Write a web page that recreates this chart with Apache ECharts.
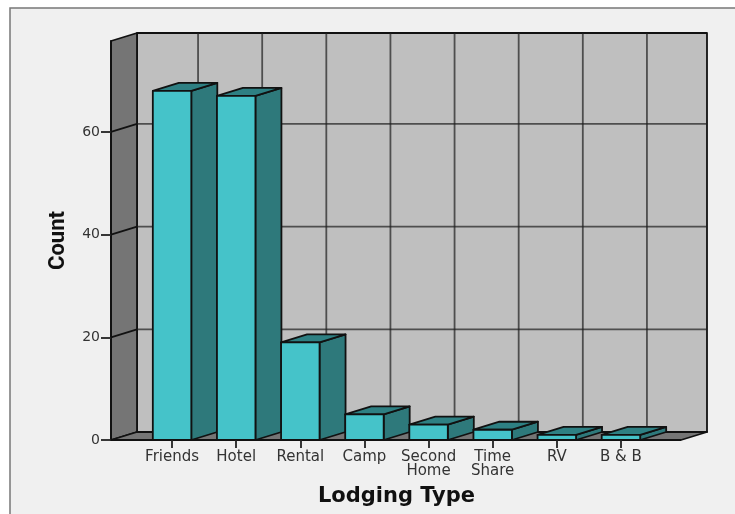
<!DOCTYPE html>
<html>
<head>
<meta charset="utf-8">
<style>html,body{margin:0;padding:0;background:#fff}#c{width:735px;height:514px}</style>
<script src="https://cdn.jsdelivr.net/npm/echarts@6/dist/echarts.min.js"></script>
</head>
<body>
<div id="c"></div>
<script>
// Lodging type counts
const categories = ['Friends', 'Hotel', 'Rental', 'Camp', 'Second\nHome', 'Time\nShare', 'RV', 'B & B'];
const counts = [68, 67, 19, 5, 3, 2, 1, 1];
const yTicks = [0, 20, 40, 60];

// 3D box look
const DX = 26, DY = 8, LEFT_PAD = 29, RIGHT_PAD = 28;
const EDGE = '#111', GRID = 'rgba(30,30,30,0.7)';

function poly(points, fill, lineWidth, stroke) {
  return {type: 'polygon', shape: {points}, style: {fill, stroke: stroke || EDGE, lineWidth: lineWidth || 1.8, lineJoin: 'round'}};
}
function line(x1, y1, x2, y2, stroke, w) {
  return {type: 'line', shape: {x1, y1, x2, y2}, style: {stroke, lineWidth: w || 1.8, fill: null}};
}

// Back wall, side wall, floor and gridlines of the chart box
function renderRoom(params, api) {
  const c = params.coordSys;
  const l = c.x - LEFT_PAD, r = c.x + c.width + RIGHT_PAD, t = c.y, b = c.y + c.height;
  const kids = [
    poly([[l + DX, t - DY], [r + DX, t - DY], [r + DX, b - DY], [l + DX, b - DY]], '#bfbfbf'),
    poly([[l, t], [l + DX, t - DY], [l + DX, b - DY], [l, b]], '#757575'),
    poly([[l, b], [l + DX, b - DY], [r + DX, b - DY], [r, b]], '#757575')
  ];
  yTicks.slice(1).forEach(v => {
    const y = api.coord([0, v])[1];
    kids.push(line(l + DX, y - DY, r + DX, y - DY, GRID));
    kids.push(line(l, y, l + DX, y - DY, EDGE));
  });
  categories.forEach((_, i) => {
    const x = api.coord([i, 0])[0];
    kids.push(line(x + DX, t - DY, x + DX, b - DY, GRID));
  });
  return {type: 'group', children: kids};
}

// One extruded bar: front face, top face and right side face
function renderBar(params, api) {
  const p = api.coord([api.value(0), api.value(1)]);
  const base = api.coord([api.value(0), 0])[1];
  const w = api.size([1, 0])[0] * 0.6;
  const x0 = p[0] - w / 2, x1 = p[0] + w / 2, y = p[1];
  return {type: 'group', children: [
    poly([[x1, y], [x1 + DX, y - DY], [x1 + DX, base - DY], [x1, base]], '#2e797b'),
    poly([[x0, y], [x0 + DX, y - DY], [x1 + DX, y - DY], [x1, y]], '#2e8083'),
    poly([[x0, y], [x1, y], [x1, base], [x0, base]], '#45c3c9')
  ]};
}

const chart = echarts.init(document.getElementById('c'), null, {renderer: 'canvas'});
chart.setOption({
  animation: false,
  backgroundColor: '#ffffff',
  graphic: [{type: 'rect', z: -10, shape: {x: 10, y: 8, width: 800, height: 600},
    style: {fill: '#f0f0f0', stroke: '#777777', lineWidth: 1.5}}],
  grid: {left: 140, top: 41, width: 513, height: 399, containLabel: false},
  xAxis: {
    type: 'category',
    data: categories,
    name: 'Lodging Type',
    nameLocation: 'middle',
    nameGap: 46,
    nameTextStyle: {fontFamily: 'DejaVu Sans', fontWeight: 'bold', fontSize: 21, color: '#111'},
    axisLine: {show: true, lineStyle: {color: '#111', width: 1.8}},
    axisTick: {show: true, alignWithLabel: true, length: 8, lineStyle: {color: '#222', width: 1.8}},
    axisLabel: {interval: 0, margin: 10, fontFamily: 'DejaVu Sans', fontSize: 15, lineHeight: 14, color: '#333'},
    splitLine: {show: false},
    z: 5
  },
  yAxis: {
    type: 'value',
    min: 0,
    max: 77.7,
    offset: 29,
    name: 'Count',
    nameLocation: 'middle',
    nameGap: 42,
    nameTextStyle: {fontFamily: 'Roboto', fontWeight: 'bold', fontSize: 22, color: '#111'},
    axisLine: {show: true, lineStyle: {color: '#111', width: 1.8}},
    axisTick: {show: true, length: 10, customValues: yTicks, lineStyle: {color: '#222', width: 1.8}},
    axisLabel: {margin: 11, customValues: yTicks, fontFamily: 'DejaVu Sans', fontSize: 14, color: '#333'},
    splitLine: {show: false},
    z: 5
  },
  series: [
    {type: 'custom', renderItem: renderRoom, data: [[0, 0]], encode: {x: 0, y: 1}, z: 1, silent: true, clip: false},
    {type: 'custom', renderItem: renderBar, data: counts.map((v, i) => [i, v]), encode: {x: 0, y: 1}, z: 2, silent: true, clip: false}
  ]
});
</script>
</body>
</html>
